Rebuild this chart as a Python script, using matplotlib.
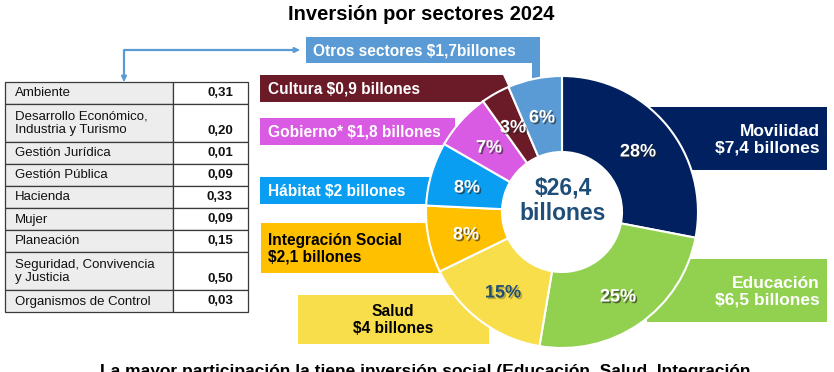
import matplotlib
matplotlib.use('Agg')
import matplotlib.pyplot as plt
import matplotlib.patheffects as pe
from matplotlib.patches import Rectangle, Polygon, FancyArrowPatch
from matplotlib.path import Path

plt.rcParams['font.family'] = ['Liberation Sans', 'DejaVu Sans']

# Data (billones de pesos)
sectors = ['Movilidad', 'Educación', 'Salud', 'Integración Social', 'Hábitat',
           'Gobierno*', 'Cultura', 'Otros sectores']
billones = [7.4, 6.5, 4.0, 2.1, 2.0, 1.8, 0.9, 1.7]
colors = ['#002060', '#92D050', '#F9DE4B', '#FFC000', '#0A9EF2',
          '#D95BE3', '#6B1A27', '#5B9BD5']
box_labels = ['Movilidad\n$7,4 billones', 'Educación\n$6,5 billones',
              'Salud\n$4 billones', 'Integración Social\n$2,1 billones',
              'Hábitat $2 billones', 'Gobierno* $1,8 billones',
              'Cultura $0,9 billones', 'Otros sectores $1,7billones']

otros_names = ['Ambiente', 'Desarrollo Económico,\nIndustria y Turismo',
               'Gestión Jurídica', 'Gestión Pública', 'Hacienda', 'Mujer',
               'Planeación', 'Seguridad, Convivencia\ny Justicia',
               'Organismos de Control']
otros_values = [0.31, 0.20, 0.01, 0.09, 0.33, 0.09, 0.15, 0.50, 0.03]

title = 'Inversión por sectores 2024'
footer = 'La mayor participación la tiene inversión social (Educación, Salud, Integración'

total = sum(billones)

fig = plt.figure(figsize=(8.34, 3.72), dpi=100)
ax = fig.add_axes([0, 0, 1, 1])

# donut
wedges, _ = ax.pie(billones, colors=colors, startangle=-90, counterclock=True,
                   radius=136, center=(562, 212),
                   wedgeprops=dict(width=76, edgecolor='white', linewidth=1.5))
for w in wedges:
    w.set_zorder(3)

ax.set_xlim(0, 834)
ax.set_ylim(372, 0)
ax.set_aspect('equal')
ax.axis('off')

# label boxes behind the donut
shapes = {
    'Movilidad': [(650, 107), (827, 107), (827, 170), (650, 170)],
    'Educación': [(647, 259), (827, 259), (827, 322), (647, 322)],
    'Salud': [(298, 295), (489, 295), (489, 344), (298, 344)],
    'Integración Social': [(261, 223), (445, 223), (445, 273), (261, 273)],
    'Hábitat': [(260, 177), (440, 177), (440, 204), (260, 204)],
    'Gobierno*': [(260, 118), (455, 118), (455, 145), (260, 145)],
    'Cultura': [(260, 75), (503, 75), (509, 88), (483, 102), (260, 102)],
    'Otros sectores': [(306, 37), (540, 37), (540, 90), (532, 90), (532, 63), (306, 63)],
}
text_pos = {
    'Movilidad': (820, 140, 'right', 12.5),
    'Educación': (820, 292, 'right', 12.5),
    'Salud': (393, 320, 'center', 11.2),
    'Integración Social': (268, 249, 'left', 11.2),
    'Hábitat': (268, 191, 'left', 11.2),
    'Gobierno*': (268, 132, 'left', 11.2),
    'Cultura': (268, 89, 'left', 11.2),
    'Otros sectores': (313, 51, 'left', 11.2),
}
dark_text = ['Salud', 'Integración Social']
for name, col, lab in zip(sectors, colors, box_labels):
    ax.add_patch(Polygon(shapes[name], closed=True, facecolor=col,
                         edgecolor='none', zorder=1))
    x, y, ha, fs = text_pos[name]
    ax.text(x, y, lab, ha=ha, va='center', fontsize=fs, fontweight='bold',
            color='black' if name in dark_text else 'white',
            linespacing=1.15, zorder=5,
            multialignment=ha if ha != 'center' else 'center')

# percentage labels
pct_pos = [(638, 152), (618, 297), (503, 293), (466, 235), (467, 188),
           (489, 148), (513, 128), (542, 118)]
for v, (x, y), name in zip(billones, pct_pos, sectors):
    pct = round(v / total * 100)
    if name == 'Salud':
        c, sh = '#1F4E79', '#9a8a30'
    else:
        c, sh = 'white', '#222222'
    ax.text(x, y, f'{pct}%', ha='center', va='center', fontsize=13,
            fontweight='bold', color=c, zorder=6,
            path_effects=[pe.withSimplePatchShadow(offset=(1.2, -1.2),
                                                   shadow_rgbFace=sh, alpha=0.6)])

# total in the hole
ax.text(563, 201, f'${total:.1f}'.replace('.', ',') + '\nbillones',
        ha='center', va='center', fontsize=16.5, fontweight='bold',
        color='#1F4E79', linespacing=1.15, zorder=6)

# table of "otros sectores"
y = 82
for name, val in zip(otros_names, otros_values):
    h = 38 if '\n' in name else 22
    ax.add_patch(Rectangle((5, y), 168, h, facecolor='#EDEDED',
                           edgecolor='#3a3a3a', linewidth=0.9, zorder=2))
    ax.add_patch(Rectangle((173, y), 75, h, facecolor='white',
                           edgecolor='#3a3a3a', linewidth=0.9, zorder=2))
    ax.text(15, y + h / 2 + 0.5, name, ha='left', va='center', fontsize=9.5,
            color='#111111', linespacing=1.2, zorder=5)
    ax.text(233, y + h - 11, f'{val:.2f}'.replace('.', ','), ha='right',
            va='center', fontsize=9.5, fontweight='bold', color='#111111', zorder=5)
    y += h

# connector arrow between table and "Otros sectores"
arrow_path = Path([(300, 50), (124, 50), (124, 82)],
                  [Path.MOVETO, Path.LINETO, Path.LINETO])
ax.add_patch(FancyArrowPatch(path=arrow_path, arrowstyle='<|-|>',
                             mutation_scale=7, color='#5B9BD5',
                             linewidth=1.6, zorder=4))

ax.text(421, 14, title, ha='center', va='center', fontsize=14.5,
        fontweight='bold', color='black')
ax.text(425, 364, footer, ha='center', va='top', fontsize=12.5,
        fontweight='bold', color='black')

fig.savefig('out.png', dpi=100)
